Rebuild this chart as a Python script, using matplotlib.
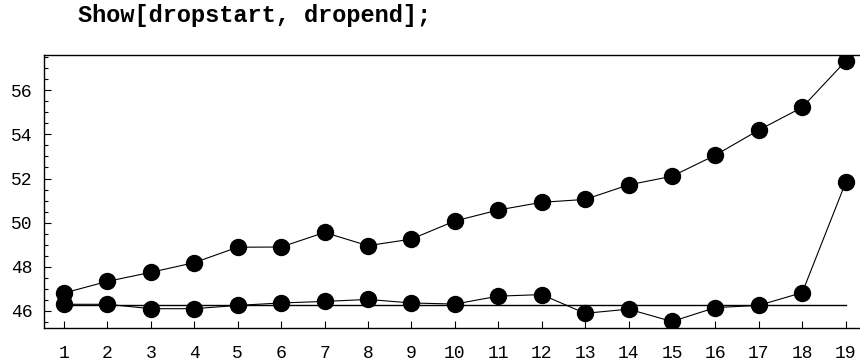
import numpy as np
import matplotlib
matplotlib.use('Agg')
import matplotlib.pyplot as plt
from matplotlib.ticker import MultipleLocator

# values
x = list(range(1, 20))
dropend = [46.80, 47.33, 47.74, 48.18, 48.88, 48.89, 49.55, 48.95, 49.25, 50.07,
           50.57, 50.92, 51.05, 51.71, 52.10, 53.06, 54.20, 55.23, 57.33]
dropstart = [46.29, 46.29, 46.09, 46.09, 46.24, 46.35, 46.42, 46.51, 46.35, 46.30,
             46.66, 46.73, 45.88, 46.07, 45.51, 46.14, 46.24, 46.82, 51.82]
level = 46.27
y_ticks = [46, 48, 50, 52, 54, 56]

plt.rcParams['font.family'] = 'Liberation Mono'

fig = plt.figure(figsize=(8.6, 3.62), dpi=100)
ax = fig.add_axes([44 / 860, 1 - 328.3 / 362, 1 - 44 / 860, (328.3 - 54.7) / 362])

ax.plot([x[0], x[-1]], [level, level], color='black', lw=1.0)
ax.plot(x, dropstart, 'o-', color='black', lw=0.8, markersize=11.5)
ax.plot(x, dropend, 'o-', color='black', lw=0.8, markersize=11.5)

ax.set_xlim(0.54, 19.33)
ax.set_ylim(45.2, 57.62)
ax.set_xticks(x)
ax.set_yticks(y_ticks)
ax.yaxis.set_minor_locator(MultipleLocator(0.5))

ax.spines['right'].set_visible(False)
for s in ['left', 'bottom', 'top']:
    ax.spines[s].set_linewidth(1.0)

ax.tick_params(axis='both', which='major', direction='in', length=5, width=0.8,
               labelsize=13)
ax.tick_params(axis='y', which='minor', direction='in', length=3, width=0.8)
ax.tick_params(axis='x', pad=12)
ax.tick_params(axis='y', pad=8)

fig.text(78 / 860, 1 - 22 / 362, 'Show[dropstart, dropend];', fontsize=17,
         fontweight='bold', family='Liberation Mono', va='baseline', ha='left')

fig.savefig('out.png', dpi=100)
